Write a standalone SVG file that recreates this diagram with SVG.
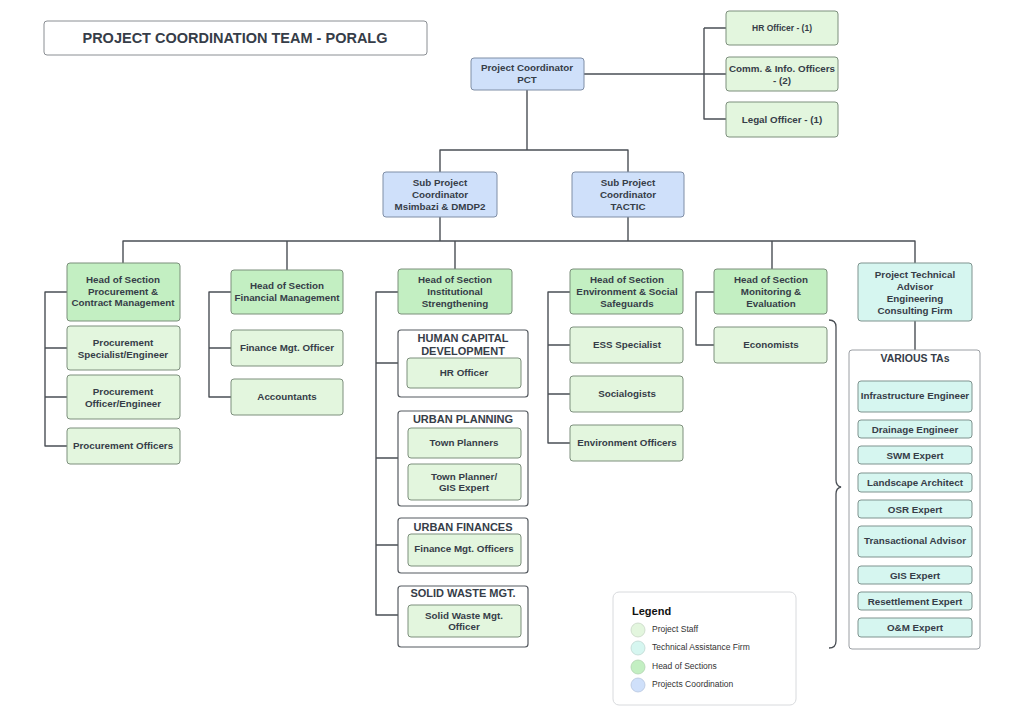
<svg xmlns="http://www.w3.org/2000/svg" width="1024" height="724" viewBox="0 0 1024 724">
<style>
text{font-family:"Liberation Sans",Arial,sans-serif;fill:#363d48;text-anchor:middle;dominant-baseline:central}
.b{font-weight:bold;font-size:9.8px}
.g{font-weight:bold;font-size:11px}
.staff{fill:#e3f6de;stroke:#7d8f7d;stroke-width:1}
.head{fill:#c3efc2;stroke:#7a8f7a;stroke-width:1}
.coord{fill:#cfe0fa;stroke:#7f8ea6;stroke-width:1}
.ta{fill:#d6f6f0;stroke:#7f938f;stroke-width:1}
.grp{fill:#ffffff;stroke:#555a60;stroke-width:1.2}
.grp2{fill:#ffffff;stroke:#9a9ea3;stroke-width:1}
.ln{fill:none;stroke:#4a4f55;stroke-width:1.4;stroke-linejoin:round}
.lg{font-size:8.5px;text-anchor:start;fill:#333}
</style>
<rect width="1024" height="724" fill="#ffffff"/>

<g id="title">
<rect x="44" y="21" width="383" height="34" rx="3" fill="#fff" stroke="#8a8e93" stroke-width="1"/>
<text x="235" y="38" style="font-weight:bold;font-size:14.5px">PROJECT COORDINATION TEAM - PORALG</text>
</g>

<g id="connectors">
<path class="ln" d="M584,74 H704 M704,28 H726 M704,28 V119 H726 M704,74 H726"/>
<path class="ln" d="M527,90 V150 M440,172 V150 H628 V172"/>
<path class="ln" d="M440,217 V241 M628,217 V241 M123,263 V241 H915 V263 M287,241 V270 M455,241 V269 M772,241 V269"/>
<path class="ln" d="M67,292 H45 V446 H67 M45,348 H67 M45,397 H67"/>
<path class="ln" d="M231,292 H209 V397 H231 M209,348 H231"/>
<path class="ln" d="M398,292 H376 V615 H398 M376,363 H398 M376,458 H398 M376,545 H398"/>
<path class="ln" d="M570,292 H548 V443 H570 M548,345 H570 M548,394 H570"/>
<path class="ln" d="M714,292 H696 V345 H714"/>
<path class="ln" d="M915,321 V350"/>
<path fill="none" stroke="#4a4f55" stroke-width="1.3" d="M829,320 Q836,320 836,327 V480 Q836,486 841,487 Q836,488 836,494 V641 Q836,648 829,648"/>
</g>

<g id="pct"><rect class="coord" x="471" y="58" width="113" height="32" rx="3"/><text class="b" x="527" y="67">Project Coordinator</text><text class="b" x="527" y="79">PCT</text></g>
<g id="hr-officer"><rect class="staff" x="726" y="11" width="112" height="34" rx="3"/><text class="b" x="782" y="28" style="font-size:8.5px">HR Officer - (1)</text></g>
<g id="comm-officers"><rect class="staff" x="726" y="57" width="112" height="34" rx="3"/><text class="b" x="782" y="68">Comm. &amp; Info. Officers</text><text class="b" x="782" y="80">- (2)</text></g>
<g id="legal-officer"><rect class="staff" x="726" y="102" width="112" height="35" rx="3"/><text class="b" x="782" y="119">Legal Officer - (1)</text></g>

<g id="sub-msimbazi"><rect class="coord" x="383" y="172" width="114" height="45" rx="3"/><text class="b" x="440" y="182">Sub Project</text><text class="b" x="440" y="194">Coordinator</text><text class="b" x="440" y="206">Msimbazi &amp; DMDP2</text></g>
<g id="sub-tactic"><rect class="coord" x="572" y="172" width="112" height="45" rx="3"/><text class="b" x="628" y="182">Sub Project</text><text class="b" x="628" y="194">Coordinator</text><text class="b" x="628" y="206">TACTIC</text></g>

<g id="head-procurement"><rect class="head" x="67" y="263" width="113" height="58" rx="3"/><text class="b" x="123" y="279">Head of Section</text><text class="b" x="123" y="291">Procurement &amp;</text><text class="b" x="123" y="302">Contract Management</text></g>
<g id="proc-specialist"><rect class="staff" x="67" y="326" width="113" height="44" rx="3"/><text class="b" x="123" y="342">Procurement</text><text class="b" x="123" y="354">Specialist/Engineer</text></g>
<g id="proc-officer-eng"><rect class="staff" x="67" y="375" width="113" height="44" rx="3"/><text class="b" x="123" y="391">Procurement</text><text class="b" x="123" y="403">Officer/Engineer</text></g>
<g id="proc-officers"><rect class="staff" x="67" y="428" width="113" height="36" rx="3"/><text class="b" x="123" y="445">Procurement Officers</text></g>

<g id="head-financial"><rect class="head" x="231" y="270" width="112" height="44" rx="3"/><text class="b" x="287" y="285">Head of Section</text><text class="b" x="287" y="297">Financial Management</text></g>
<g id="finance-officer"><rect class="staff" x="231" y="330" width="112" height="36" rx="3"/><text class="b" x="287" y="347">Finance Mgt. Officer</text></g>
<g id="accountants"><rect class="staff" x="231" y="379" width="112" height="36" rx="3"/><text class="b" x="287" y="396">Accountants</text></g>

<g id="head-institutional"><rect class="head" x="398" y="269" width="114" height="45" rx="3"/><text class="b" x="455" y="279">Head of Section</text><text class="b" x="455" y="291">Institutional</text><text class="b" x="455" y="303">Strengthening</text></g>
<g id="hcd"><rect class="grp" x="398" y="330" width="130" height="67" rx="3"/><text class="g" x="463" y="338">HUMAN CAPITAL</text><text class="g" x="463" y="351">DEVELOPMENT</text>
<rect class="staff" x="407" y="358" width="114" height="30" rx="3"/><text class="b" x="464" y="372">HR Officer</text></g>
<g id="urban-planning"><rect class="grp" x="398" y="411" width="130" height="95" rx="3"/><text class="g" x="463" y="419">URBAN PLANNING</text>
<rect class="staff" x="408" y="428" width="113" height="30" rx="3"/><text class="b" x="464" y="442">Town Planners</text>
<rect class="staff" x="408" y="464" width="113" height="36" rx="3"/><text class="b" x="464" y="476">Town Planner/</text><text class="b" x="464" y="487">GIS Expert</text></g>
<g id="urban-finances"><rect class="grp" x="398" y="518" width="130" height="55" rx="3"/><text class="g" x="463" y="527">URBAN FINANCES</text>
<rect class="staff" x="408" y="534" width="113" height="32" rx="3"/><text class="b" x="464" y="548">Finance Mgt. Officers</text></g>
<g id="solid-waste"><rect class="grp" x="398" y="586" width="130" height="61" rx="3"/><text class="g" x="463" y="593">SOLID WASTE MGT.</text>
<rect class="staff" x="408" y="605" width="113" height="32" rx="3"/><text class="b" x="464" y="615">Solid Waste Mgt.</text><text class="b" x="464" y="626">Officer</text></g>

<g id="head-env"><rect class="head" x="570" y="269" width="113" height="45" rx="3"/><text class="b" x="627" y="279">Head of Section</text><text class="b" x="627" y="291">Environment &amp; Social</text><text class="b" x="627" y="303">Safeguards</text></g>
<g id="ess-specialist"><rect class="staff" x="570" y="327" width="113" height="36" rx="3"/><text class="b" x="627" y="344">ESS Specialist</text></g>
<g id="socialogists"><rect class="staff" x="570" y="376" width="113" height="36" rx="3"/><text class="b" x="627" y="393">Socialogists</text></g>
<g id="env-officers"><rect class="staff" x="570" y="425" width="113" height="36" rx="3"/><text class="b" x="627" y="442">Environment Officers</text></g>

<g id="head-me"><rect class="head" x="714" y="269" width="113" height="45" rx="3"/><text class="b" x="771" y="279">Head of Section</text><text class="b" x="771" y="291">Monitoring &amp;</text><text class="b" x="771" y="303">Evaluation</text></g>
<g id="economists"><rect class="staff" x="714" y="327" width="113" height="36" rx="3"/><text class="b" x="771" y="344">Economists</text></g>

<g id="tech-advisor"><rect class="ta" x="858" y="263" width="114" height="58" rx="3"/><text class="b" x="915" y="274">Project Technical</text><text class="b" x="915" y="286">Advisor</text><text class="b" x="915" y="298">Engineering</text><text class="b" x="915" y="310">Consulting Firm</text></g>
<g id="various-tas"><rect class="grp2" x="849" y="350" width="131" height="299" rx="3"/><text class="g" x="915" y="358" style="font-size:10.5px">VARIOUS TAs</text>
<rect class="ta" x="858" y="381" width="114" height="31" rx="3"/><text class="b" x="915" y="395">Infrastructure Engineer</text>
<rect class="ta" x="858" y="420" width="114" height="18" rx="3"/><text class="b" x="915" y="429">Drainage Engineer</text>
<rect class="ta" x="858" y="446" width="114" height="18" rx="3"/><text class="b" x="915" y="455">SWM Expert</text>
<rect class="ta" x="858" y="473" width="114" height="19" rx="3"/><text class="b" x="915" y="482">Landscape Architect</text>
<rect class="ta" x="858" y="500" width="114" height="18" rx="3"/><text class="b" x="915" y="509">OSR Expert</text>
<rect class="ta" x="858" y="526" width="114" height="31" rx="3"/><text class="b" x="915" y="540">Transactional Advisor</text>
<rect class="ta" x="858" y="566" width="114" height="18" rx="3"/><text class="b" x="915" y="575">GIS Expert</text>
<rect class="ta" x="858" y="592" width="114" height="18" rx="3"/><text class="b" x="915" y="601">Resettlement Expert</text>
<rect class="ta" x="858" y="618" width="114" height="19" rx="3"/><text class="b" x="915" y="627">O&amp;M Expert</text></g>

<g id="legend">
<rect x="613" y="592" width="183" height="113" rx="6" fill="#fff" stroke="#d8dadd" stroke-width="1"/>
<text x="632" y="611" style="font-weight:bold;font-size:11px;text-anchor:start;fill:#111">Legend</text>
<circle cx="638" cy="630" r="7" fill="#e3f6de" stroke="#c9d7c6" stroke-width="0.8"/><text class="lg" x="652" y="629">Project Staff</text>
<circle cx="638" cy="648" r="7" fill="#d6f6f0" stroke="#c0d8d3" stroke-width="0.8"/><text class="lg" x="652" y="647">Technical Assistance Firm</text>
<circle cx="638" cy="667" r="7" fill="#c3efc2" stroke="#b2d4b1" stroke-width="0.8"/><text class="lg" x="652" y="666">Head of Sections</text>
<circle cx="638" cy="685" r="7" fill="#cfe0fa" stroke="#b7c6de" stroke-width="0.8"/><text class="lg" x="652" y="684">Projects Coordination</text>
</g>
</svg>
